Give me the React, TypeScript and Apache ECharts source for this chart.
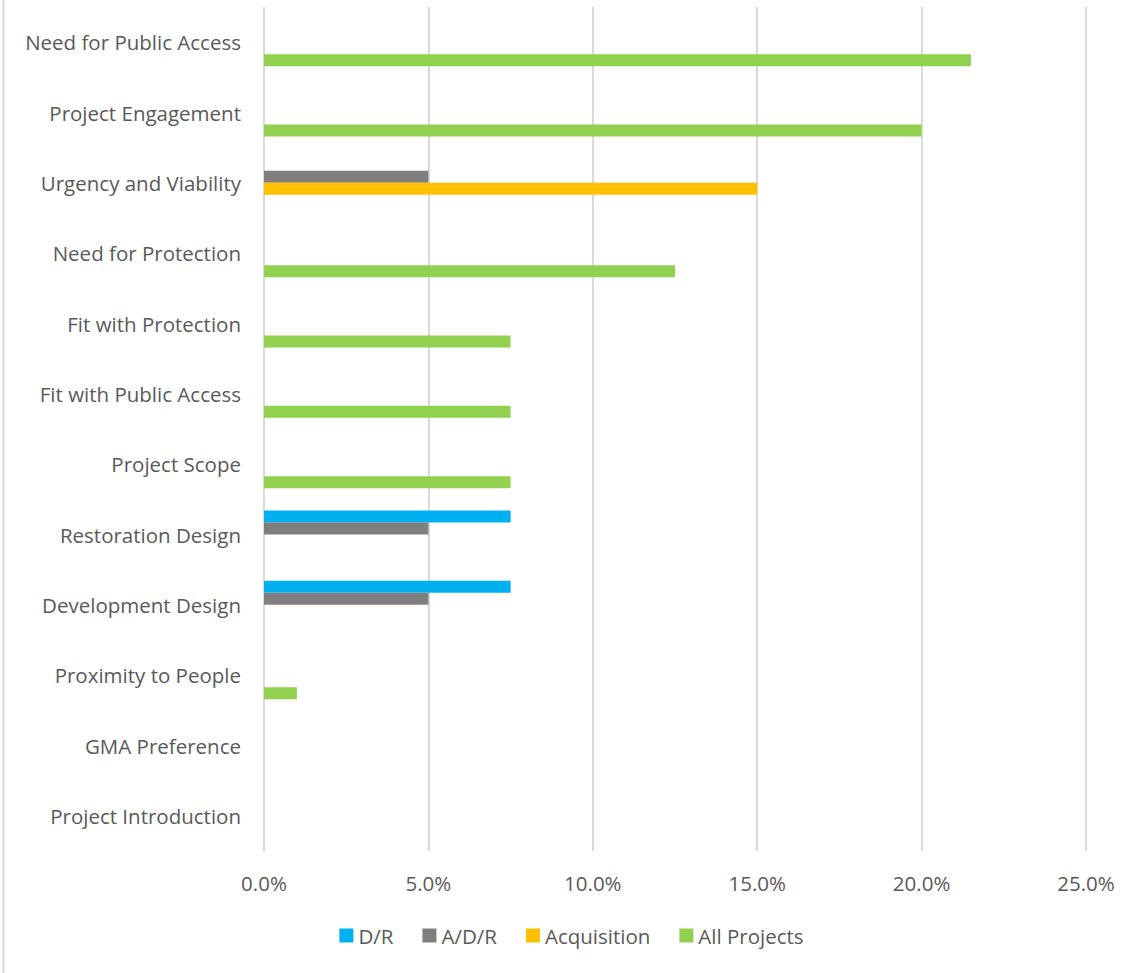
import React, { useEffect, useRef } from "react";
import * as echarts from "echarts";

const categories = [
  "Need for Public Access",
  "Project Engagement",
  "Urgency and Viability",
  "Need for Protection",
  "Fit with Protection",
  "Fit with Public Access",
  "Project Scope",
  "Restoration Design",
  "Development Design",
  "Proximity to People",
  "GMA Preference",
  "Project Introduction",
];

const drValues = [0, 0, 0, 0, 0, 0, 0, 7.5, 7.5, 0, 0, 0];
const adrValues = [0, 0, 5, 0, 0, 0, 0, 5, 5, 0, 0, 0];
const acquisitionValues = [0, 0, 15, 0, 0, 0, 0, 0, 0, 0, 0, 0];
const allProjectsValues = [21.5, 20, 0, 12.5, 7.5, 7.5, 7.5, 0, 0, 1, 0, 0];

const seriesNames = ["D/R", "A/D/R", "Acquisition", "All Projects"];
const seriesColors = ["#00B0F0", "#7F7F7F", "#FFC000", "#92D050"];
const seriesValues = [drValues, adrValues, acquisitionValues, allProjectsValues];

const FONT = "'Open Sans', sans-serif";
const FS = 20.5;

export default function App() {
  const ref = useRef<HTMLDivElement>(null);
  useEffect(() => {
    document.body.style.margin = "0";
    const chart = echarts.init(ref.current!, null, { renderer: "svg" });
    chart.setOption({
      animation: false,
      backgroundColor: "#ffffff",
      textStyle: { fontFamily: FONT },
      grid: { left: 264, right: 57, top: 7, bottom: 122, containLabel: false },
      legend: {
        data: seriesNames,
        top: 920,
        left: "center",
        itemWidth: 14,
        itemHeight: 14,
        itemGap: 29,
        icon: "rect",
        textStyle: { color: "#595959", fontSize: FS, fontFamily: FONT },
      },
      xAxis: {
        type: "value",
        min: 0,
        max: 25,
        interval: 5,
        axisLine: { show: false },
        axisTick: { show: false },
        axisLabel: {
          color: "#595959",
          fontSize: FS,
          margin: 21,
          fontFamily: FONT,
          formatter: (v: number) => v.toFixed(1) + "%",
        },
        splitLine: { show: true, lineStyle: { color: "#d9d9d9", width: 2 } },
      },
      yAxis: {
        type: "category",
        data: categories,
        inverse: true,
        axisLine: { show: false },
        axisTick: { show: false },
        axisLabel: { color: "#595959", fontSize: FS, margin: 23, fontFamily: FONT, padding: [0, 0, 2, 0] },
        splitLine: { show: false },
      },
      series: seriesNames.map((name, i) => ({
        name,
        type: "bar",
        data: seriesValues[i],
        barWidth: 12,
        barGap: "0%",
        itemStyle: { color: seriesColors[i] },
      })),
      graphic: [
        {
          type: "line",
          shape: { x1: 3.5, y1: 0, x2: 3.5, y2: 973 },
          style: { stroke: "#d9d9d9", lineWidth: 2 },
        },
      ],
    });
    return () => chart.dispose();
  }, []);
  return <div ref={ref} style={{ width: 1143, height: 973 }} />;
}
